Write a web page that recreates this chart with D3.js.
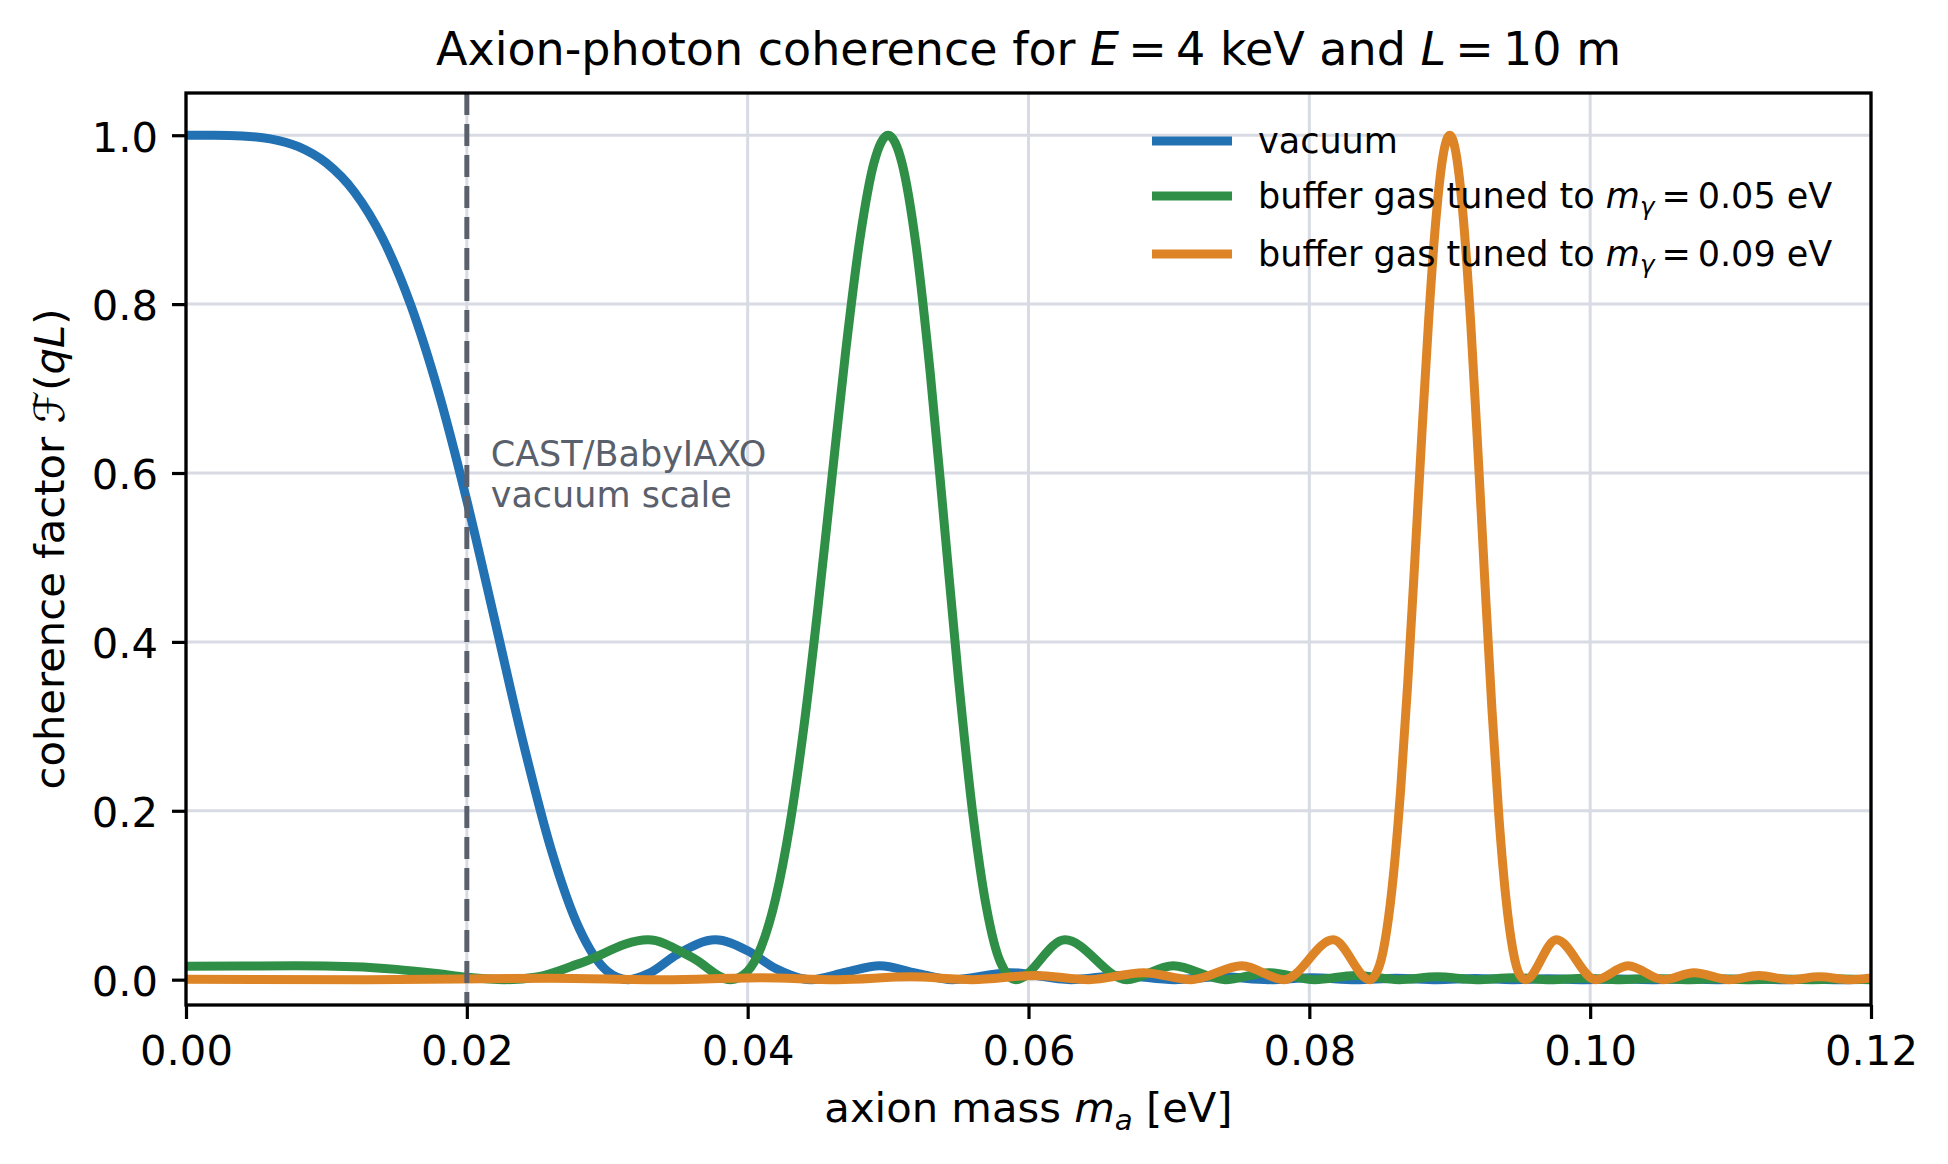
<!DOCTYPE html>
<html>
<head>
<meta charset="utf-8">
<script src="https://cdn.jsdelivr.net/npm/d3@7"></script>
<style>
  html, body { margin: 0; padding: 0; background: #fff; }
  svg text { font-family: "DejaVu Sans", sans-serif; }
</style>
</head>
<body>
<svg id="chart"></svg>
<script>
// axion mass [eV] -> coherence factor
const vacuum = [
  [0, 1], [0.002, 0.9999], [0.004, 0.9991], [0.006, 0.9957], [0.008, 0.9864], [0.010, 0.9670],
  [0.012, 0.9326], [0.014, 0.8779], [0.016, 0.7992], [0.018, 0.6947], [0.020, 0.5672],
  [0.022, 0.4249], [0.024, 0.2815], [0.026, 0.1545], [0.028, 0.0607], [0.030, 0.0101],
  [0.0315, 0], [0.033, 0.0077], [0.035, 0.0301], [0.0377, 0.0472], [0.040, 0.0342],
  [0.042, 0.0132], [0.0445, 0], [0.047, 0.0088], [0.0494, 0.0165], [0.052, 0.0078],
  [0.0546, 0], [0.0587, 0.0083], [0.0630, 0], [0.0666, 0.0050], [0.0704, 0], [0.0737, 0.0034],
  [0.0771, 0], [0.0802, 0.0024], [0.0833, 0], [0.0862, 0.0018], [0.0891, 0], [0.0918, 0.0014],
  [0.0945, 0], [0.0970, 0.0011], [0.0996, 0], [0.1020, 0.0009], [0.1045, 0], [0.1068, 0.0008],
  [0.1091, 0], [0.1113, 0.0007], [0.1136, 0], [0.1157, 0.0006], [0.1178, 0], [0.12, 0.0005]
]

const bufferGas005 = [
  [0, 0.0159], [0.004, 0.0162], [0.0078, 0.0165], [0.012, 0.0154], [0.015, 0.0122],
  [0.018, 0.0069], [0.020, 0.0029], [0.0227, 0], [0.025, 0.0032], [0.028, 0.0190],
  [0.0329, 0.0472], [0.036, 0.0267], [0.0388, 0], [0.040, 0.0101], [0.041, 0.0403],
  [0.042, 0.0966], [0.043, 0.1828], [0.044, 0.2989], [0.045, 0.4398], [0.046, 0.5944],
  [0.047, 0.7470], [0.048, 0.8779], [0.049, 0.9677], [0.050, 1], [0.051, 0.9664],
  [0.052, 0.8683], [0.053, 0.7188], [0.054, 0.5398], [0.055, 0.3586], [0.056, 0.2010],
  [0.057, 0.0860], [0.058, 0.0207], [0.0591, 0], [0.0626, 0.0472], [0.0670, 0],
  [0.0703, 0.0165], [0.0740, 0], [0.0771, 0.0083], [0.0804, 0], [0.0833, 0.0050],
  [0.0864, 0], [0.0891, 0.0034], [0.0919, 0], [0.0945, 0.0024], [0.0972, 0], [0.0996, 0.0018],
  [0.1021, 0], [0.1045, 0.0014], [0.1069, 0], [0.1091, 0.0011], [0.1114, 0], [0.1136, 0.0009],
  [0.1158, 0], [0.1179, 0.0008], [0.12, 0]
]

const bufferGas009 = [
  [0, 0.0004], [0.0129, 0], [0.0260, 0.0018], [0.0340, 0], [0.0409, 0.0024], [0.0464, 0],
  [0.0516, 0.0034], [0.0560, 0], [0.0605, 0.0050], [0.0643, 0], [0.0682, 0.0083], [0.0716, 0],
  [0.0752, 0.0165], [0.0782, 0], [0.0817, 0.0472], [0.0843, 0], [0.085, 0.0170],
  [0.0855, 0.0570], [0.086, 0.1257], [0.0865, 0.2243], [0.087, 0.3491], [0.0875, 0.4924],
  [0.088, 0.6418], [0.0885, 0.7821], [0.089, 0.8973], [0.0895, 0.9734], [0.090, 1],
  [0.0905, 0.9731], [0.091, 0.8951], [0.0915, 0.7759], [0.092, 0.6282], [0.0925, 0.4713],
  [0.093, 0.3214], [0.0935, 0.1933], [0.094, 0.0966], [0.0945, 0.0347], [0.095, 0.0051],
  [0.0954, 0], [0.0976, 0.0472], [0.1004, 0], [0.1027, 0.0165], [0.1052, 0], [0.1074, 0.0083],
  [0.1099, 0], [0.1120, 0.0050], [0.1143, 0], [0.1163, 0.0034], [0.1185, 0], [0.12, 0.0020]
]

const massTicks = [0, 0.02, 0.04, 0.06, 0.08, 0.10, 0.12]
const coherenceTicks = [0, 0.2, 0.4, 0.6, 0.8, 1.0]
const vacuumScaleMass = 0.02
const annotationLines = ['CAST/BabyIAXO', 'vacuum scale']

// label pieces: i = italic, sub = subscript (thin spaces round "=" like mathtext)
const seriesLabels = [
  [{ t: 'vacuum' }],
  [{ t: 'buffer gas tuned to ' }, { t: 'm', i: true }, { t: 'γ', i: true, sub: true }, { t: '\u2009=\u20090.05 eV' }],
  [{ t: 'buffer gas tuned to ' }, { t: 'm', i: true }, { t: 'γ', i: true, sub: true }, { t: '\u2009=\u20090.09 eV' }]
]
const seriesColors = ['#2271b3', '#2f8f46', '#dd8426']

/* CONFIG */
const width = 1948
const height = 1164
const margin = { top: 93, right: 77, bottom: 159, left: 186 }
const plotW = width - margin.left - margin.right
const plotH = height - margin.top - margin.bottom
const tickFont = 41.7
const lineWidth = 9

const svg = d3.select('#chart')
  .attr('width', width)
  .attr('height', height)
  .attr('viewBox', `0 0 ${width} ${height}`)

svg.append('rect').attr('width', width).attr('height', height).attr('fill', '#fff')

const g = svg.append('g').attr('transform', `translate(${margin.left},${margin.top})`)

const x = d3.scaleLinear().domain([0, 0.12]).range([0, plotW])
const y = d3.scaleLinear().domain([-0.03, 1.05]).range([plotH, 0])

// grid
g.append('g').selectAll('line').data(massTicks).join('line')
  .attr('x1', d => x(d)).attr('x2', d => x(d))
  .attr('y1', 0).attr('y2', plotH)
  .attr('stroke', '#d8dbe3').attr('stroke-width', 3)
g.append('g').selectAll('line').data(coherenceTicks).join('line')
  .attr('x1', 0).attr('x2', plotW)
  .attr('y1', d => y(d)).attr('y2', d => y(d))
  .attr('stroke', '#d8dbe3').attr('stroke-width', 3)

svg.append('clipPath').attr('id', 'plot-clip')
  .append('rect').attr('width', plotW).attr('height', plotH)

const line = d3.line()
  .x(d => x(d[0]))
  .y(d => y(d[1]))
  .curve(d3.curveMonotoneX)

const curves = g.append('g').attr('clip-path', 'url(#plot-clip)')
;[vacuum, bufferGas005, bufferGas009].forEach((series, i) => {
  curves.append('path')
    .attr('d', line(series))
    .attr('fill', 'none')
    .attr('stroke', seriesColors[i])
    .attr('stroke-width', lineWidth)
    .attr('stroke-linejoin', 'round')
    .attr('stroke-linecap', 'butt')
})

// vacuum scale marker
g.append('line')
  .attr('x1', x(vacuumScaleMass)).attr('x2', x(vacuumScaleMass))
  .attr('y1', 0).attr('y2', plotH)
  .attr('stroke', '#5b616c').attr('stroke-width', 5)
  .attr('stroke-dasharray', '22 9')

g.append('text')
  .attr('fill', '#5a606b')
  .attr('font-size', 35)
  .selectAll('tspan').data(annotationLines).join('tspan')
  .attr('x', x(0.0217))
  .attr('y', (d, i) => y(0.6) - 7 + i * 41)
  .text(d => d)

// axes
const xAxis = g.append('g')
  .attr('transform', `translate(0,${plotH})`)
  .call(d3.axisBottom(x).tickValues(massTicks).tickFormat(d3.format('.2f')).tickSize(14).tickPadding(16).tickSizeOuter(0))
const yAxis = g.append('g')
  .call(d3.axisLeft(y).tickValues(coherenceTicks).tickFormat(d3.format('.1f')).tickSize(14).tickPadding(14).tickSizeOuter(0))

;[xAxis, yAxis].forEach(a => {
  a.select('.domain').remove()
  a.selectAll('.tick line').attr('stroke', '#000').attr('stroke-width', 3.2)
  a.selectAll('.tick text')
    .attr('fill', '#000')
    .attr('font-size', tickFont)
    .attr('font-family', '"DejaVu Sans", sans-serif')
})
yAxis.selectAll('.tick text').attr('dy', '0.38em')

// frame
g.append('rect')
  .attr('width', plotW).attr('height', plotH)
  .attr('fill', 'none').attr('stroke', '#000').attr('stroke-width', 3.3)

function richText(sel, parts) {
  parts.forEach((p, k) => {
    const prevSub = k > 0 && parts[k - 1].sub
    const ts = sel.append('tspan').text(p.t)
    if (p.i) ts.attr('font-style', 'italic')
    if (p.sub) ts.attr('font-size', '70%').attr('dy', '0.28em')
    else if (prevSub) ts.attr('dy', '-0.196em')
  })
  return sel
}

// legend
const legend = g.append('g')
seriesLabels.forEach((parts, i) => {
  const ly = [48, 103, 161][i]
  legend.append('line')
    .attr('x1', 966).attr('x2', 1046)
    .attr('y1', ly).attr('y2', ly)
    .attr('stroke', seriesColors[i]).attr('stroke-width', lineWidth)
  const t = legend.append('text')
    .attr('x', 1072).attr('y', ly + 12)
    .attr('font-size', 35).attr('fill', '#000')
  richText(t, parts)
})

// title and axis labels
const title = svg.append('text')
  .attr('x', margin.left + plotW / 2).attr('y', 65)
  .attr('text-anchor', 'middle').attr('font-size', 46).attr('fill', '#000')
richText(title, [{ t: 'Axion-photon coherence for ' }, { t: 'E', i: true }, { t: '\u2009=\u20094 keV and ' }, { t: 'L', i: true }, { t: '\u2009=\u200910 m' }])

const xLabel = svg.append('text')
  .attr('x', margin.left + plotW / 2).attr('y', 1122)
  .attr('text-anchor', 'middle').attr('font-size', tickFont).attr('fill', '#000')
richText(xLabel, [{ t: 'axion mass ' }, { t: 'm', i: true }, { t: 'a', i: true, sub: true }, { t: ' [eV]' }])

const yLabel = svg.append('text')
  .attr('transform', `translate(64,${margin.top + plotH / 2}) rotate(-90)`)
  .attr('text-anchor', 'middle').attr('font-size', tickFont).attr('fill', '#000')
richText(yLabel, [{ t: 'coherence factor ' }, { t: 'ℱ' }, { t: '(' }, { t: 'qL', i: true }, { t: ')' }])
</script>
</body>
</html>
